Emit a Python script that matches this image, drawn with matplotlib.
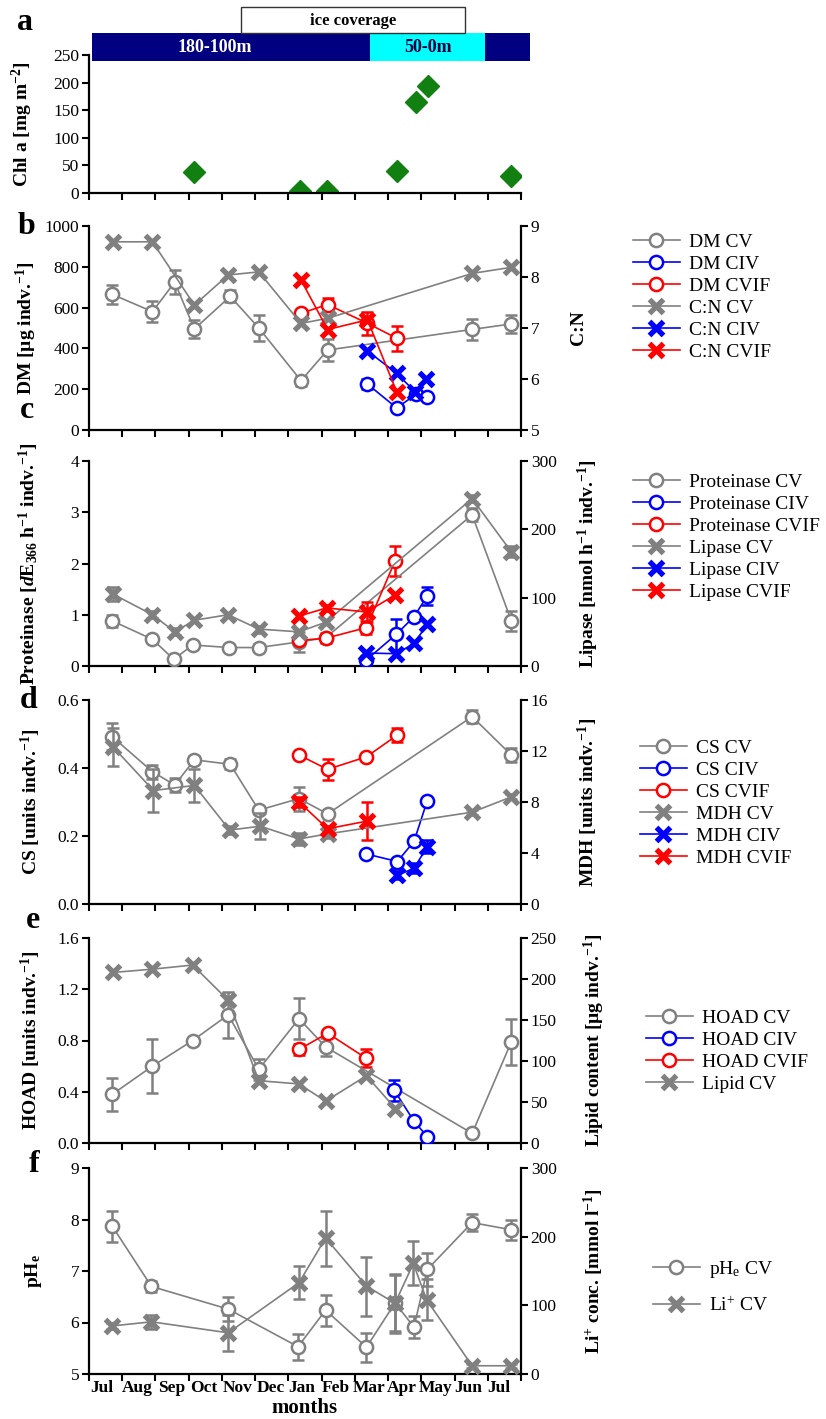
import matplotlib
matplotlib.use('Agg')
import matplotlib.pyplot as plt
from matplotlib.patches import Rectangle

plt.rcParams['font.family'] = ['Liberation Serif', 'DejaVu Serif']
plt.rcParams['mathtext.fontset'] = 'custom'
plt.rcParams['mathtext.rm'] = 'Liberation Serif'
plt.rcParams['mathtext.bf'] = 'Liberation Serif:bold'
plt.rcParams['mathtext.it'] = 'Liberation Serif:bold:italic'

GRAY, BLUE, RED = '#808080', '#0000ff', '#ff0000'
months = ['Jul', 'Aug', 'Sep', 'Oct', 'Nov', 'Dec', 'Jan', 'Feb', 'Mar', 'Apr', 'May', 'Jun', 'Jul']
month_label_pos = [0.38, 1.46, 2.48, 3.44, 4.46, 5.48, 6.4, 7.42, 8.42, 9.4, 10.42, 11.42, 12.33]

# ---------------- panel a: Chl a
chl_x = [3.17, 6.34, 7.17, 9.28, 9.84, 10.19, 12.71]
chl = [38, 3, 3, 40, 165, 193, 30]
depth_segments = [(0.09, 8.47, '#000080', '180-100m', 'white'),
                  (8.47, 11.91, '#00ffff', '50-0m', '#000040'),
                  (11.91, 13.28, '#000080', '', 'white')]
ice_span = (4.57, 11.32)

# ---------------- panel b: DM / C:N
dm_cv_x = [0.70, 1.91, 2.58, 3.17, 4.25, 5.11, 6.38, 7.18, 11.53, 12.71]
dm_cv = [665, 580, 725, 495, 655, 500, 242, 392, 493, 520]
dm_cv_err = [45, 50, 60, 45, 30, 65, 25, 55, 50, 45]
dm_civ_x = [8.38, 9.26, 9.84, 10.16]
dm_civ = [225, 108, 175, 163]
dm_civ_err = [25, 0, 0, 0]
dm_cvif_x = [6.38, 7.18, 8.38, 9.26]
dm_cvif = [572, 615, 523, 450]
dm_cvif_err = [0, 30, 55, 62]
cn_cv_x = [0.73, 1.91, 3.17, 4.19, 5.11, 6.38, 7.18, 11.53, 12.71]
cn_cv = [8.69, 8.69, 7.45, 8.04, 8.10, 7.09, 7.19, 8.07, 8.19]
cn_civ_x = [8.38, 9.26, 9.81, 10.14]
cn_civ = [6.55, 6.11, 5.75, 6.00]
cn_cvif_x = [6.38, 7.18, 8.38, 9.26]
cn_cvif = [7.94, 6.97, 7.16, 5.75]

# ---------------- panel c: Proteinase / Lipase
prot_cv_x = [0.70, 1.91, 2.55, 3.12, 4.22, 5.11, 6.32, 7.12, 11.53, 12.71]
prot_cv = [0.88, 0.52, 0.13, 0.41, 0.36, 0.36, 0.47, 0.55, 2.95, 0.88]
prot_cv_err = [0.12, 0.05, 0.03, 0.05, 0.03, 0.07, 0.2, 0.05, 0.13, 0.2]
prot_civ_x = [8.35, 9.25, 9.78, 10.18]
prot_civ = [0.12, 0.62, 0.96, 1.37]
prot_civ_err = [0, 0.3, 0, 0.18]
prot_cvif_x = [6.32, 7.12, 8.35, 9.21]
prot_cvif = [0.50, 0.54, 0.75, 2.05]
prot_cvif_err = [0, 0.1, 0.12, 0.3]
lip_cv_x = [0.73, 1.91, 2.58, 3.17, 4.19, 5.11, 6.32, 7.12, 11.53, 12.71]
lip_cv = [105, 75, 50, 67, 75, 54, 50, 64, 245, 167]
lip_cv_err = [10, 5, 5, 0, 0, 5, 0, 0, 5, 8]
lip_civ_x = [8.35, 9.25, 9.78, 10.18]
lip_civ = [19, 18, 33, 61]
lip_cvif_x = [6.32, 7.15, 8.36, 9.21]
lip_cvif = [73, 85, 79, 104]
lip_cvif_err = [0, 5, 15, 0]

# ---------------- panel d: CS / MDH
cs_cv_x = [0.70, 1.91, 2.58, 3.17, 4.25, 5.11, 6.32, 7.18, 11.53, 12.71]
cs_cv = [0.492, 0.389, 0.350, 0.424, 0.411, 0.276, 0.31, 0.265, 0.551, 0.438]
cs_cv_err = [0.04, 0.02, 0.02, 0.01, 0.015, 0.01, 0.035, 0.01, 0.02, 0.02]
cs_civ_x = [8.35, 9.28, 9.78, 10.18]
cs_civ = [0.147, 0.125, 0.184, 0.304]
cs_cvif_x = [6.32, 7.18, 8.35, 9.28]
cs_cvif = [0.438, 0.396, 0.433, 0.497]
cs_cvif_err = [0, 0.03, 0, 0.02]
mdh_cv_x = [0.73, 1.94, 3.17, 4.23, 5.16, 6.32, 7.18, 11.53, 12.71]
mdh_cv = [12.3, 8.9, 9.3, 5.8, 6.1, 5.1, 5.5, 7.2, 8.4]
mdh_cv_err = [1.5, 1.7, 1.3, 0.3, 1.0, 0.5, 0.3, 0.2, 0.2]
mdh_civ_x = [9.28, 9.78, 10.18]
mdh_civ = [2.25, 2.8, 4.5]
mdh_civ_err = [0.3, 0.4, 0.5]
mdh_cvif_x = [6.32, 7.18, 8.36]
mdh_cvif = [8.0, 5.9, 6.5]
mdh_cvif_err = [0.4, 0.2, 1.5]

# ---------------- panel e: HOAD / Lipid
hoad_cv_x = [0.70, 1.91, 3.12, 4.19, 5.11, 6.32, 7.12, 11.53, 12.71]
hoad_cv = [0.38, 0.60, 0.80, 1.00, 0.575, 0.97, 0.75, 0.075, 0.79]
hoad_cv_err = [0.13, 0.21, 0, 0.18, 0.08, 0.16, 0.07, 0, 0.18]
hoad_civ_x = [9.19, 9.78, 10.18]
hoad_civ = [0.41, 0.17, 0.05]
hoad_civ_err = [0.08, 0, 0]
hoad_cvif_x = [6.32, 7.18, 8.35]
hoad_cvif = [0.73, 0.857, 0.66]
hoad_cvif_err = [0.04, 0, 0.07]
lipid_cv_x = [0.73, 1.91, 3.12, 4.19, 5.11, 6.32, 7.12, 8.35, 9.22]
lipid_cv = [208, 212, 217, 174, 76, 72, 51, 82, 42]

# ---------------- panel f: pHe / Li+
ph_x = [0.70, 1.88, 4.19, 6.29, 7.12, 8.35, 9.21, 9.78, 10.18, 11.53, 12.71]
ph = [7.87, 6.70, 6.26, 5.53, 6.24, 5.52, 6.38, 5.91, 7.03, 7.94, 7.80]
ph_err = [0.3, 0.1, 0.23, 0.25, 0.3, 0.28, 0.55, 0.22, 0.32, 0.17, 0.2]
li_x = [0.70, 1.88, 4.19, 6.32, 7.12, 8.35, 9.21, 9.76, 10.16, 11.53, 12.71]
li = [70, 76, 60, 133, 198, 128, 103, 161, 108, 12, 12]
li_err = [5, 10, 26, 24, 40, 43, 43, 32, 30, 3, 3]

# ======================================================================
W, H = 826, 1419
L, R = 89, 521
fig = plt.figure(figsize=(W / 100, H / 100), dpi=100)

TICK_FS = 12.5
LAB_FS = 14
LEG_FS = 14


def add_axes(top, bottom):
    return fig.add_axes([L / W, 1 - bottom / H, (R - L) / W, (bottom - top) / H])


def style(ax, twin=None):
    ax.set_xlim(0, 13)
    ax.set_xticks(range(14))
    ax.set_xticklabels([])
    ax.spines['top'].set_visible(False)
    for s in ax.spines.values():
        s.set_linewidth(1.6)
    ax.tick_params(direction='out', length=5, width=1.5, labelsize=TICK_FS, pad=2)
    if twin is not None:
        ax.spines['right'].set_visible(False)
        twin.spines['top'].set_visible(False)
        twin.spines['left'].set_visible(False)
        twin.spines['bottom'].set_visible(False)
        twin.spines['right'].set_linewidth(1.6)
        twin.tick_params(direction='out', length=5, width=1.5, labelsize=TICK_FS, pad=2)
    else:
        ax.spines['right'].set_visible(False)


def series(ax, x, y, err, color, marker, label):
    if marker == 'o':
        kw = dict(marker='o', ms=9.5, mfc='white', mec=color, mew=1.8)
    else:
        kw = dict(marker='x', ms=10, mec=color, mew=3.8)
    line, = ax.plot(x, y, color=color, lw=1.2, label=label, zorder=3, **kw)
    if err is not None:
        xe = [a for a, e in zip(x, err) if e > 0]
        ye = [b for b, e in zip(y, err) if e > 0]
        ee = [e for e in err if e > 0]
        if xe:
            ax.errorbar(xe, ye, yerr=ee, fmt='none', ecolor=color, elinewidth=1.8,
                        capsize=4.5, capthick=1.8, zorder=2)
    return line


def left_label(ax, text, xpx):
    ax.set_ylabel(text, fontsize=LAB_FS, fontweight='bold', va='center')
    ax.yaxis.set_label_coords((xpx - L) / (R - L), 0.5)


def right_label(ax, text, xpx):
    ax.set_ylabel(text, fontsize=LAB_FS, fontweight='bold', va='center', rotation=90)
    ax.yaxis.set_label_coords((xpx - L) / (R - L), 0.5)


def legend(handles, xpx, ypx, spacing=0.22):
    fig.legend(handles=handles, loc='center left', bbox_to_anchor=(xpx / W, 1 - ypx / H),
               frameon=False, fontsize=LEG_FS, handlelength=2.4, handletextpad=0.5,
               labelspacing=spacing, borderpad=0, borderaxespad=0, numpoints=1)


def panel_letter(text, xpx, ypx):
    fig.text(xpx / W, 1 - ypx / H, text, fontsize=23, fontweight='bold', ha='center', va='center')


# ---- panel a
axa = add_axes(55, 193)
style(axa)
axa.set_ylim(0, 250)
axa.set_yticks(range(0, 251, 50))
axa.plot(chl_x, chl, linestyle='none', marker='D', ms=11, color='#118011', mec='#118011')
for x0, x1, col, txt, tcol in depth_segments:
    axa.add_patch(Rectangle((x0, 239), x1 - x0, 51, facecolor=col, edgecolor='none',
                            clip_on=False, zorder=6))
    if txt:
        axa.text((x0 + x1) / 2 - (0.5 if txt == '180-100m' else 0), 264, txt, ha='center', va='center',
                 color=tcol, fontsize=13, fontweight='bold', zorder=7, clip_on=False)
axa.add_patch(Rectangle((ice_span[0], 289), ice_span[1] - ice_span[0], 48, facecolor='white',
                        edgecolor='#333333', lw=1, clip_on=False, zorder=6))
axa.text(sum(ice_span) / 2, 312, 'ice coverage', ha='center', va='center', fontsize=12,
         fontweight='bold', zorder=7, clip_on=False)
left_label(axa, r'Chl a [mg m$^{\mathbf{-2}}$]', 22)
panel_letter('a', 25, 23)

# ---- panel b
axb = add_axes(226, 430)
axb2 = axb.twinx()
style(axb, axb2)
axb.set_ylim(0, 1000)
axb.set_yticks(range(0, 1001, 200))
axb2.set_ylim(5, 9)
axb2.set_yticks(range(5, 10))
hb = [series(axb, dm_cv_x, dm_cv, dm_cv_err, GRAY, 'o', 'DM CV'),
      series(axb, dm_civ_x, dm_civ, dm_civ_err, BLUE, 'o', 'DM CIV'),
      series(axb, dm_cvif_x, dm_cvif, dm_cvif_err, RED, 'o', 'DM CVIF'),
      series(axb2, cn_cv_x, cn_cv, None, GRAY, 'x', 'C:N CV'),
      series(axb2, cn_civ_x, cn_civ, None, BLUE, 'x', 'C:N CIV'),
      series(axb2, cn_cvif_x, cn_cvif, None, RED, 'x', 'C:N CVIF')]
left_label(axb, r'DM [µg indv.$^{\mathbf{-1}}$]', 26)
right_label(axb2, 'C:N', 578)
legend(hb, 633, 297)
panel_letter('b', 27, 227)
panel_letter('c', 27, 410)

# ---- panel c
axc = add_axes(461, 666)
axc2 = axc.twinx()
style(axc, axc2)
axc.set_ylim(0, 4)
axc.set_yticks(range(0, 5))
axc2.set_ylim(0, 300)
axc2.set_yticks(range(0, 301, 100))
hc = [series(axc, prot_cv_x, prot_cv, prot_cv_err, GRAY, 'o', 'Proteinase CV'),
      series(axc, prot_civ_x, prot_civ, prot_civ_err, BLUE, 'o', 'Proteinase CIV'),
      series(axc, prot_cvif_x, prot_cvif, prot_cvif_err, RED, 'o', 'Proteinase CVIF'),
      series(axc2, lip_cv_x, lip_cv, lip_cv_err, GRAY, 'x', 'Lipase CV'),
      series(axc2, lip_civ_x, lip_civ, None, BLUE, 'x', 'Lipase CIV'),
      series(axc2, lip_cvif_x, lip_cvif, lip_cvif_err, RED, 'x', 'Lipase CVIF')]
left_label(axc, r'Proteinase [$\it{d}$E$_{\mathbf{366}}$ h$^{\mathbf{-1}}$ indv.$^{\mathbf{-1}}$]', 29)
right_label(axc2, r'Lipase [nmol h$^{\mathbf{-1}}$ indv.$^{\mathbf{-1}}$]', 588)
legend(hc, 633, 537)

# ---- panel d
axd = add_axes(700, 904)
axd2 = axd.twinx()
style(axd, axd2)
axd.set_ylim(0, 0.6)
axd.set_yticks([0, 0.2, 0.4, 0.6])
axd.set_yticklabels(['0.0', '0.2', '0.4', '0.6'])
axd2.set_ylim(0, 16)
axd2.set_yticks(range(0, 17, 4))
hd = [series(axd, cs_cv_x, cs_cv, cs_cv_err, GRAY, 'o', 'CS CV'),
      series(axd, cs_civ_x, cs_civ, None, BLUE, 'o', 'CS CIV'),
      series(axd, cs_cvif_x, cs_cvif, cs_cvif_err, RED, 'o', 'CS CVIF'),
      series(axd2, mdh_cv_x, mdh_cv, mdh_cv_err, GRAY, 'x', 'MDH CV'),
      series(axd2, mdh_civ_x, mdh_civ, mdh_civ_err, BLUE, 'x', 'MDH CIV'),
      series(axd2, mdh_cvif_x, mdh_cvif, mdh_cvif_err, RED, 'x', 'MDH CVIF')]
left_label(axd, r'CS [units indv.$^{\mathbf{-1}}$]', 31)
right_label(axd2, r'MDH [units indv.$^{\mathbf{-1}}$]', 588)
legend(hd, 640, 803)
panel_letter('d', 29, 700)
panel_letter('e', 33, 920)

# ---- panel e
axe = add_axes(938, 1143)
axe2 = axe.twinx()
style(axe, axe2)
axe.set_ylim(0, 1.6)
axe.set_yticks([0, 0.4, 0.8, 1.2, 1.6])
axe.set_yticklabels(['0.0', '0.4', '0.8', '1.2', '1.6'])
axe2.set_ylim(0, 250)
axe2.set_yticks(range(0, 251, 50))
he = [series(axe, hoad_cv_x, hoad_cv, hoad_cv_err, GRAY, 'o', 'HOAD CV'),
      series(axe, hoad_civ_x, hoad_civ, hoad_civ_err, BLUE, 'o', 'HOAD CIV'),
      series(axe, hoad_cvif_x, hoad_cvif, hoad_cvif_err, RED, 'o', 'HOAD CVIF'),
      series(axe2, lipid_cv_x, lipid_cv, None, GRAY, 'x', 'Lipid CV')]
left_label(axe, r'HOAD [units indv.$^{\mathbf{-1}}$]', 31)
right_label(axe2, r'Lipid content [µg indv.$^{\mathbf{-1}}$]', 594)
legend(he, 646, 1051)

# ---- panel f
axf = add_axes(1168, 1374)
axf2 = axf.twinx()
style(axf, axf2)
axf.set_ylim(5, 9)
axf.set_yticks(range(5, 10))
axf2.set_ylim(0, 300)
axf2.set_yticks(range(0, 301, 100))
axf.set_xticks(month_label_pos, minor=True)
axf.set_xticklabels(months, minor=True, fontsize=12.5, fontweight='bold')
axf.tick_params(axis='x', which='minor', length=0, pad=4)
hf = [series(axf, ph_x, ph, ph_err, GRAY, 'o', r'pH$_{\mathrm{e}}$ CV'),
      series(axf2, li_x, li, li_err, GRAY, 'x', r'Li$^{+}$ CV')]
axf.set_xlabel('months', fontsize=15, fontweight='bold', labelpad=2)
left_label(axf, r'pH$_{\mathbf{e}}$', 34)
right_label(axf2, r'Li$^{\mathbf{+}}$ conc. [mmol l$^{\mathbf{-1}}$]', 594)
legend(hf, 653, 1287, spacing=0.85)
panel_letter('f', 34, 1164)

fig.savefig('out.png', dpi=100)
